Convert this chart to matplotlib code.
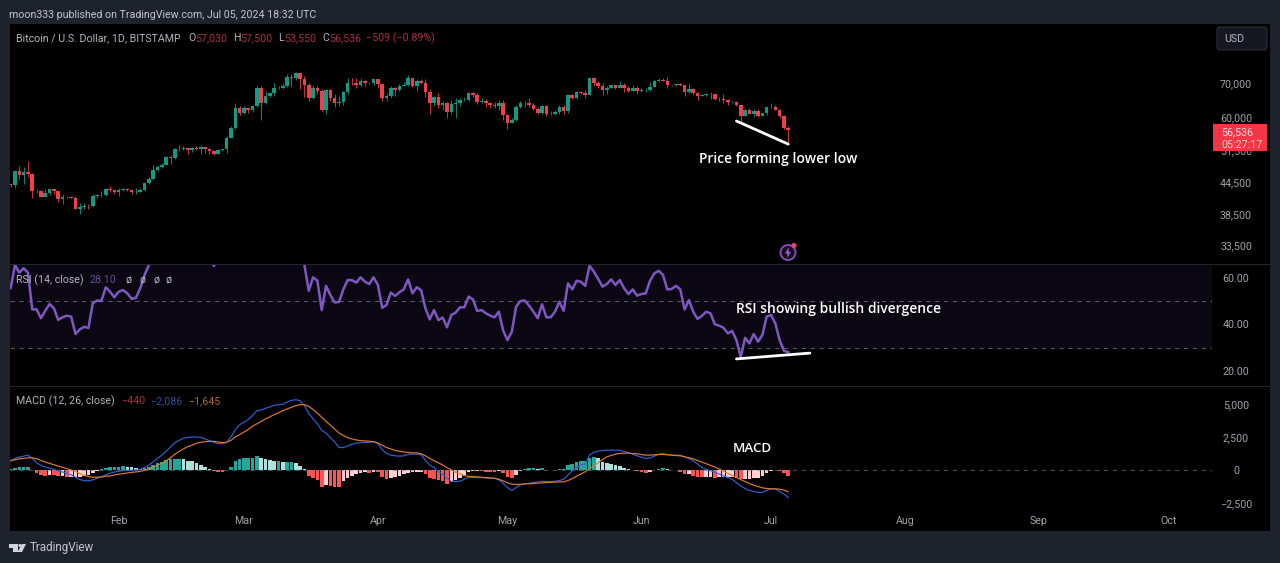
import matplotlib
matplotlib.use('Agg')
import matplotlib.pyplot as plt
import matplotlib.dates as mdates
import numpy as np
import pandas as pd
from matplotlib.patches import FancyBboxPatch, Polygon, Rectangle, Circle
from matplotlib.ticker import FixedLocator, FuncFormatter, NullLocator
from matplotlib.transforms import IdentityTransform

W, H = 1280, 563
plt.rcParams['font.family'] = ['Roboto', 'DejaVu Sans']

# daily candles, Jan 7 -> Jul 5 2024
first_open = 44150
closes = [43920, 46960, 46120, 46660, 46340, 42800, 42850, 41730, 42500, 43150,
          42740, 41270, 41620, 41660, 41560, 39530, 39900, 40080, 39930, 41820,
          42120, 42030, 43300, 42950, 42580, 43080, 43190, 42990, 42580, 42660,
          43090, 44340, 45290, 47130, 47770, 48290, 49960, 49700, 51800, 51900,
          52130, 51650, 52130, 51780, 52260, 51850, 51300, 50740, 51570, 51730,
          54500, 57050, 62500, 61200, 62400, 62040, 63130, 68300, 63800, 66100,
          66900, 68300, 68500, 69000, 72100, 71500, 73100, 71400, 69400, 65300,
          68400, 67600, 61900, 67900, 65500, 63800, 64100, 67200, 70000, 69900,
          69500, 70800, 70000, 69900, 71300, 69700, 65500, 65900, 68500, 67850,
          69000, 69400, 71700, 69100, 70600, 70000, 67100, 64000, 65700, 63400,
          63800, 61300, 63500, 63800, 64900, 64900, 66800, 66400, 64300, 64500,
          63800, 63450, 63100, 63850, 60600, 58300, 59100, 62900, 63900, 64000,
          63200, 62300, 61200, 63100, 60800, 60800, 61450, 62900, 61550, 66250,
          65250, 67050, 66940, 66270, 71450, 70150, 69150, 67950, 68550, 69290,
          68500, 69400, 68350, 67600, 68350, 67500, 67750, 67750, 68800, 70560,
          71100, 70800, 69350, 69300, 69650, 69500, 67300, 68250, 66750, 66000,
          66200, 66650, 66500, 65150, 64950, 64850, 64100, 64250, 63200, 60300,
          61800, 60850, 61600, 60300, 60950, 62700, 62800, 62000, 60200, 57030,
          56536]
highs = [44500, 47000, 47900, 47700, 49000, 46500, 43200, 43100, 43300, 43500,
         43200, 42900, 42200, 41850, 41900, 41850, 40500, 40500, 40300, 42200,
         42200, 42800, 43350, 43850, 43000, 43400, 43450, 43350, 43100, 43500,
         43400, 44500, 45600, 48200, 48150, 48550, 50300, 50350, 52000, 52800,
         52600, 52150, 52400, 52450, 52900, 52350, 52000, 51500, 51950, 51950,
         54900, 57500, 63900, 63000, 63100, 62400, 63200, 69000, 69200, 67600,
         67000, 70100, 69000, 70000, 72800, 72900, 73700, 73100, 72400, 70000,
         68900, 68900, 68000, 68000, 68200, 66700, 65900, 67600, 71500, 71600,
         71700, 71500, 71000, 70300, 71300, 71300, 69700, 66900, 69200, 68700,
         69600, 70300, 72700, 71700, 71200, 71200, 71200, 68000, 66000, 66900,
         64400, 64100, 64700, 65500, 65400, 65600, 67200, 67200, 67000, 65300,
         65000, 64200, 64300, 64700, 64700, 60800, 59600, 63300, 64400, 64600,
         65500, 63800, 62900, 63300, 63400, 61500, 61800, 63400, 63400, 66600,
         66700, 67400, 67400, 67700, 71500, 71900, 70500, 70000, 69100, 69500,
         69500, 70600, 69900, 68900, 69500, 69000, 68400, 68500, 70200, 71000,
         71700, 71500, 71900, 69500, 69800, 70100, 69500, 70000, 68300, 67200,
         66500, 66900, 67200, 66600, 65700, 66500, 65000, 64500, 64500, 63300,
         62300, 62400, 62200, 62100, 61000, 62900, 63800, 63200, 62300, 60500,
         57500]
lows = [43600, 43400, 45300, 44300, 45600, 41500, 42500, 41700, 41700, 42100,
        42250, 40700, 40300, 41500, 41500, 39450, 38600, 39500, 39400, 39800,
        41400, 41650, 41800, 42700, 42300, 41900, 42800, 42800, 42300, 42300,
        42550, 42800, 44300, 45200, 46800, 47600, 48200, 48350, 49500, 51300,
        51650, 50700, 51200, 51500, 50600, 50900, 50700, 50500, 50700, 51300,
        50900, 54400, 56700, 60500, 60800, 61200, 61400, 62700, 59100, 63500,
        65700, 66100, 68100, 68200, 68700, 68700, 71000, 68000, 65700, 64600,
        65000, 66700, 61500, 60800, 64600, 62900, 63000, 63300, 66600, 69300,
        68400, 68900, 69000, 69600, 69500, 68300, 64600, 64600, 65300, 66000,
        67500, 68900, 69100, 68600, 67500, 69600, 65700, 60800, 63000, 62400,
        62000, 59800, 60800, 59700, 63100, 64500, 64500, 65800, 63600, 63800,
        62800, 62600, 62400, 62000, 59200, 56700, 58600, 58800, 62600, 62700,
        62800, 61900, 60700, 60700, 60200, 60500, 60600, 60800, 60800, 61200,
        65100, 65000, 66600, 65500, 66200, 69200, 68400, 66400, 66700, 68500,
        68200, 68400, 67200, 67100, 67400, 66600, 67200, 67300, 67600, 68600,
        70400, 70600, 68400, 69200, 69200, 69200, 66100, 66900, 66400, 64900,
        65900, 66000, 65100, 64700, 64600, 64000, 63400, 63900, 63000, 58400,
        60300, 60700, 60000, 60000, 60500, 60600, 62500, 61800, 59700, 56800,
        53550]

rsi = [55.7, 65.6, 62.3, 64.2, 62.3, 46.5, 46.5, 42.7, 45.9, 48.8,
       47, 42, 43.1, 43.8, 43.4, 35.9, 37.9, 39, 38.5, 49.1,
       50.3, 50.1, 56, 54.1, 51.7, 54.1, 54.8, 53.4, 51, 51.5,
       55.6, 61.3, 65.6, 72, 74, 75, 79, 78, 82, 82,
       83, 79, 81, 77, 78, 74, 70, 65.2, 68, 69,
       76, 81, 87, 82, 83, 82, 83, 88, 72, 75,
       76, 78, 78, 79, 83, 81, 83, 78, 65.5, 54.5,
       60.3, 58.8, 46.2, 56.6, 52.7, 49.5, 49.7, 55.1, 59.1, 59.1,
       58, 60.3, 58.4, 57.4, 60.3, 57, 47.2, 48.4, 53.7, 52.3,
       53.9, 55.1, 59.4, 53.4, 56, 54.8, 47, 42.2, 46.2, 41.9,
       43, 38.8, 44.1, 45.1, 47.4, 47.4, 52, 50.8, 45.8, 46.2,
       44.8, 43.8, 43.1, 45.5, 37.4, 33.3, 36.9, 47.7, 50.1, 50.3,
       48.1, 45.5, 42.7, 48.7, 43.1, 43.1, 45.5, 49.8, 45.9, 57.7,
       55.1, 58.8, 58.4, 56.6, 65.3, 62.7, 59.6, 56.3, 57.4, 59.4,
       57, 59.1, 55.6, 53.1, 55.1, 52.4, 53.1, 53.4, 58.8, 62,
       63.1, 61.3, 55.1, 55.3, 56.6, 55.1, 46.5, 50.5, 45.5, 42.4,
       43.7, 45.5, 44.8, 40.1, 39.5, 38.6, 36.2, 37.2, 33.3, 25.9,
       34.3, 31.9, 35.9, 32.6, 35.5, 43.4, 44.1, 40.5, 33.3, 28.7,
       28.1]

macd_line = [700, 875, 975, 1050, 1125, 875, 550, 350, 225, 150,
             50, -75, -150, -250, -350, -550, -725, -800, -825, -750,
             -625, -525, -375, -250, -150, -100, -50, -25, -25, 0,
             50, 200, 375, 625, 875, 1125, 1425, 1750, 2050, 2250,
             2400, 2475, 2500, 2500, 2475, 2350, 2225, 2100, 2000, 2000,
             2100, 2500, 3050, 3425, 3625, 3825, 4125, 4500, 4550, 4675,
             4775, 4900, 4950, 4975, 5150, 5275, 5325, 5250, 4875, 4300,
             3875, 3500, 3000, 2800, 2450, 2125, 1700, 1700, 1825, 1950,
             2025, 2075, 2075, 2100, 2125, 2000, 1550, 1250, 1125, 1075,
             1050, 1075, 1175, 1200, 1200, 1150, 750, 375,
             200, -125, -325, -625, -875, -875, -850, -700, -550, -550,
             -575, -575, -600, -625, -625, -750, -1000, -1325, -1550, -1325,
             -1125, -1050, -1000, -950, -900, -850, -875, -875, -850, -800,
             -700, -375, -50, 200, 400, 450, 1125, 1350, 1425, 1475,
             1500, 1500, 1500, 1500, 1400, 1325, 1200, 1075, 975, 875,
             925, 1050, 1200, 1250, 1175, 1125, 1125, 1125, 1000, 875,
             700, 450, 200, 50, -50, -175, -300, -450, -575, -700,
             -950, -1200, -1400, -1550, -1625, -1700, -1700, -1550, -1425, -1450,
             -1625, -1825, -2086]
signal_line = [700, 775, 850, 875, 925, 925, 850, 725, 600, 500,
               400, 300, 200, 100, 0, -125, -275, -400, -500, -550,
               -550, -525, -475, -450, -375, -325, -275, -225, -175, -150,
               -100, -25, 100, 225, 350, 525, 700, 925, 1200, 1400,
               1600, 1775, 1875, 2025, 2100, 2150, 2175, 2175, 2125, 2075,
               2100, 2250, 2500, 2675, 2875, 3075, 3325, 3500, 3675, 3875,
               4025, 4200, 4325, 4500, 4625, 4750, 4875, 4950, 4950, 4825,
               4575, 4300, 4000, 3675, 3400, 3100, 2800, 2625, 2450, 2350,
               2275, 2225, 2200, 2175, 2150, 2050, 1875, 1700, 1600, 1475,
               1425, 1375, 1325, 1300, 1300, 1225, 1075, 875,
               700, 550, 375, 175, 0, -175, -300, -425, -475, -500,
               -525, -550, -575, -600, -625, -700, -825, -975, -1075, -1100,
               -1075, -1050, -1050, -1025, -1000, -975, -950, -925, -925, -900,
               -900, -800, -650, -475, -300, -125, 100, 325, 550, 800,
               1000, 1100, 1200, 1250, 1275, 1275, 1250, 1225, 1175, 1125,
               1125, 1150, 1175, 1175, 1150, 1125, 1100, 1075, 1000, 925,
               850, 725, 600, 475, 350, 225, 75, -75, -250, -425,
               -575, -725, -875, -1025, -1150, -1250, -1350, -1400, -1425, -1425,
               -1450, -1525, -1645]
hist = [50, 175, 200, 200, 200, 0, -200, -400, -425, -375,
        -400, -450, -450, -500, -500, -500, -500, -450, -400, -250,
        -100, 75, 175, 200, 225, 250, 275, 250, 200, 125,
        100, 125, 250, 400, 500, 625, 725, 800, 850, 850,
        800, 700, 650, 500, 375, 225, 100, -75, -125, -150,
        0, 225, 675, 825, 900, 900, 900, 1050, 875, 825,
        750, 700, 700, 600, 600, 600, 550, 325, 50, -450,
        -625, -750, -1250, -1125, -1175, -1250, -1300, -800, -625, -450,
        -300, -200, -175, -250, -125, -175, -500, -675, -575, -550,
        -450, -300, -200, -150, -125, -125, -300, -625,
        -700, -750, -800, -1050, -825, -750, -600, -375, -150, -75,
        -50, -75, -125, -150, -175, -100, -200, -550, -625, -375,
        -75, 75, 125, 125, 50, 125, 25, 0, 25, 75,
        100, 375, 450, 575, 700, 700, 925, 950, 925, 625,
        550, 450, 375, 300, 175, 75, 25, -75, -150, -200,
        -125, 0, 75, 150, 75, 25, -25, -125, -300, -300,
        -450, -500, -550, -550, -550, -600, -550, -500, -500, -500,
        -625, -700, -675, -675, -625, -575, -450, -200, -75, 0,
        -50, -200, -440]

for name, s in [('closes', closes), ('highs', highs), ('lows', lows), ('rsi', rsi),
                ('macd', macd_line), ('signal', signal_line), ('hist', hist)]:
    assert len(s) == 181, (name, len(s))

price_ticks = [70000, 60000, 51500, 44500, 38500, 33500]
rsi_ticks = [60, 40, 20]
macd_ticks = [5000, 2500, 0, -2500]

BG = '#1e222d'
GREEN = '#129a84'
RED = '#ee3f4c'
TXT = '#b2b5be'
TICK = '#a0a3ab'
PURPLE = '#7e57c2'

dates = pd.date_range('2024-01-07', periods=181, freq='D')
d = mdates.date2num(dates)
opens = [first_open] + closes[:-1]

fig = plt.figure(figsize=(W / 100, H / 100), dpi=100, facecolor=BG)


def axes_px(left, top, right, bottom):
    ax = fig.add_axes([left / W, 1 - bottom / H, (right - left) / W, (bottom - top) / H])
    ax.patch.set_alpha(0)
    for s in ax.spines.values():
        s.set_visible(False)
    return ax


def text_px(x, y, s, color=TXT, size=7.7, **kw):
    kw.setdefault('va', 'center')
    kw.setdefault('ha', 'left')
    return fig.text(x / W, 1 - (y + 1) / H, s, color=color, fontsize=size, **kw)


def box_px(left, top, right, bottom, **kw):
    r = Rectangle((left, H - bottom), right - left, bottom - top,
                  transform=IdentityTransform(), **kw)
    fig.add_artist(r)
    return r


box_px(10, 24, 1270, 531, facecolor='black', edgecolor='none', zorder=-5)

# pixel layout: Jan 8 sits at x=15, 4.32 px per day
x0 = d[1]
xlim = (x0 + (10 - 15) / 4.32, x0 + (1212 - 15) / 4.32)

ax_p = axes_px(10, 24, 1212, 264)
ax_r = axes_px(10, 265, 1212, 386)
ax_m = axes_px(10, 387, 1212, 510)

# price pane
ax_p.set_yscale('log')
ax_p.set_ylim(70000 * np.exp((83 - 264) / 219.8), 70000 * np.exp((83 - 24) / 219.8))
colors = [GREEN if c >= o else RED for o, c in zip(opens, closes)]
ax_p.vlines(d, lows, highs, colors=colors, lw=0.7, alpha=0.85)
ax_p.bar(d, np.abs(np.array(closes) - np.array(opens)),
         bottom=np.minimum(opens, closes), width=0.84, color=colors, linewidth=0)
ax_p.plot([mdates.date2num(pd.Timestamp('2024-06-23')), mdates.date2num(pd.Timestamp('2024-07-05'))],
          [58890, 53000], color='white', lw=2, solid_capstyle='round')
ax_p.yaxis.set_major_locator(FixedLocator(price_ticks))
ax_p.yaxis.set_minor_locator(NullLocator())
ax_p.yaxis.set_major_formatter(FuncFormatter(lambda v, _: f'{v:,.0f}'))

# rsi pane
ax_r.set_ylim(60 - (386 - 278) / 2.325, 60 + (278 - 265) / 2.325)
ax_r.axhspan(30, 70, color=PURPLE, alpha=0.1, lw=0)
for lvl in [50, 30]:
    ax_r.axhline(lvl, color='#787b86', lw=0.8, ls=(0, (4, 4)), alpha=0.7)
ax_r.plot(d, rsi, color=PURPLE, lw=1.8)
ax_r.plot([mdates.date2num(pd.Timestamp('2024-06-23')), mdates.date2num(pd.Timestamp('2024-07-10'))],
          [25.2, 27.7], color='white', lw=2, solid_capstyle='round')
ax_r.set_yticks(rsi_ticks, [f'{v:.2f}' for v in rsi_ticks])

# macd pane
ax_m.set_ylim((470 - 510) / 0.0132, (470 - 387) / 0.0132)
ax_m.axhline(0, color='#787b86', lw=0.8, ls=(0, (4, 4)), alpha=0.6)
bar_cols = []
for i, v in enumerate(hist):
    prev = hist[i - 1] if i else v
    if v >= 0:
        bar_cols.append('#26a69a' if v >= prev else '#b2dfdb')
    else:
        bar_cols.append('#ffcdd2' if v >= prev else '#ff5252')
ax_m.bar(d, hist, width=0.84, color=bar_cols, linewidth=0)
ax_m.plot(d, macd_line, color='#2f62d8', lw=0.85)
ax_m.plot(d, signal_line, color='#e07b2c', lw=0.85)
ax_m.set_yticks(macd_ticks, [f'{v:,}'.replace('-', '\u2212') for v in macd_ticks])

for ax in (ax_p, ax_r, ax_m):
    ax.set_xlim(xlim)
    ax.yaxis.tick_right()
    ax.tick_params(axis='y', length=0, pad=17.3, colors=TICK, labelsize=7.7)
    for lab in ax.get_yticklabels():
        lab.set_ha('center')
    ax.tick_params(axis='x', length=0, bottom=False, labelbottom=False)

ax_m.xaxis.set_major_locator(mdates.MonthLocator())
ax_m.xaxis.set_major_formatter(mdates.DateFormatter('%b'))
ax_m.tick_params(axis='x', labelbottom=True, colors=TICK, labelsize=7.7, pad=4)

# pane separators
box_px(10, 264, 1270, 265, facecolor='#22252d', edgecolor='none')
box_px(10, 386, 1270, 387, facecolor='#22252d', edgecolor='none')

# header and legends
text_px(9, 14, 'moon333 published on TradingView.com, Jul 05, 2024 18:32 UTC', color='#c4c6cc', size=7.7)
text_px(16, 37, 'Bitcoin / U.S. Dollar, 1D, BITSTAMP', size=7.7)
DIM_RED = '#a8323c'
for x, s, col in [(188, 'O', TXT), (195, '57,030', DIM_RED), (233, 'H', TXT), (240, '57,500', DIM_RED),
                  (278, 'L', TXT), (284, '53,550', DIM_RED), (322, 'C', TXT), (329, '56,536', DIM_RED),
                  (366, '\u2212509 (\u22120.89%)', DIM_RED)]:
    text_px(x, 37, s, color=col, size=7.7)
text_px(16, 279, 'RSI (14, close)', size=7.7)
text_px(90, 279, '28.10', color='#5f4d94', size=7.7)
for x in [126, 139, 153, 166]:
    text_px(x, 279, '\u00f8', size=7.7)
text_px(16, 400, 'MACD (12, 26, close)', size=7.7)
text_px(121, 400, '\u2212440', color=DIM_RED, size=7.7)
text_px(150, 400, '\u22122,086', color='#2b4f9e', size=7.7)
text_px(188, 400, '\u22121,645', color='#b0682a', size=7.7)

# annotations
note = dict(color='white', ha='center', family=['Open Sans', 'DejaVu Sans'], weight='semibold')
text_px(778, 158, 'Price forming lower low', size=10, **note)
text_px(839, 308, 'RSI showing bullish divergence', size=10, **note)
text_px(752, 447, 'MACD', size=9.6, **note)

# last price badge and currency button
box_px(1213, 124, 1267, 151, facecolor='#f23645', edgecolor='none', zorder=2)
text_px(1221, 131, '56,536', color='#fbe3e5', size=7.7, zorder=3)
text_px(1221, 144, '05:27:17', color='#f9c9cd', size=7.7, zorder=3)
fig.add_artist(FancyBboxPatch((1217, H - 50), 50, 23, boxstyle='round,pad=0,rounding_size=3',
                              transform=IdentityTransform(), facecolor='#15181f',
                              edgecolor='#2a2e39', lw=0.8))
text_px(1224, 38, 'USD', size=7.7)

# bolt icon
fig.add_artist(Circle((788, H - 252.5), 7.5, transform=IdentityTransform(),
                      facecolor='#140e1e', edgecolor='#8a4fc0', lw=1.3))
fig.add_artist(Polygon([(787, H - 258), (791, H - 252), (788.5, H - 252), (789, H - 247), (785, H - 253.5), (787.5, H - 253.5)],
                       transform=IdentityTransform(), facecolor='#9c5fd0', edgecolor='none'))
fig.add_artist(Circle((794, H - 245.5), 2.6, transform=IdentityTransform(), facecolor='#e8455f', edgecolor='none'))

# TradingView footer logo
LOGO = '#d1d4dc'
for pts in [[(9, 544), (18, 544), (18, 552), (13, 552), (13, 547.5), (9, 547.5)],
            [(22, 544), (26, 544), (22, 552), (17.5, 552)]]:
    fig.add_artist(Polygon([(x, H - y) for x, y in pts], transform=IdentityTransform(),
                           facecolor=LOGO, edgecolor='none'))
fig.add_artist(Circle((20, H - 545.5), 1.6, transform=IdentityTransform(), facecolor=LOGO, edgecolor='none'))
text_px(30, 547, 'TradingView', color='#c4c6cc', size=8.4)

fig.savefig('out.png', dpi=100, facecolor=BG)
